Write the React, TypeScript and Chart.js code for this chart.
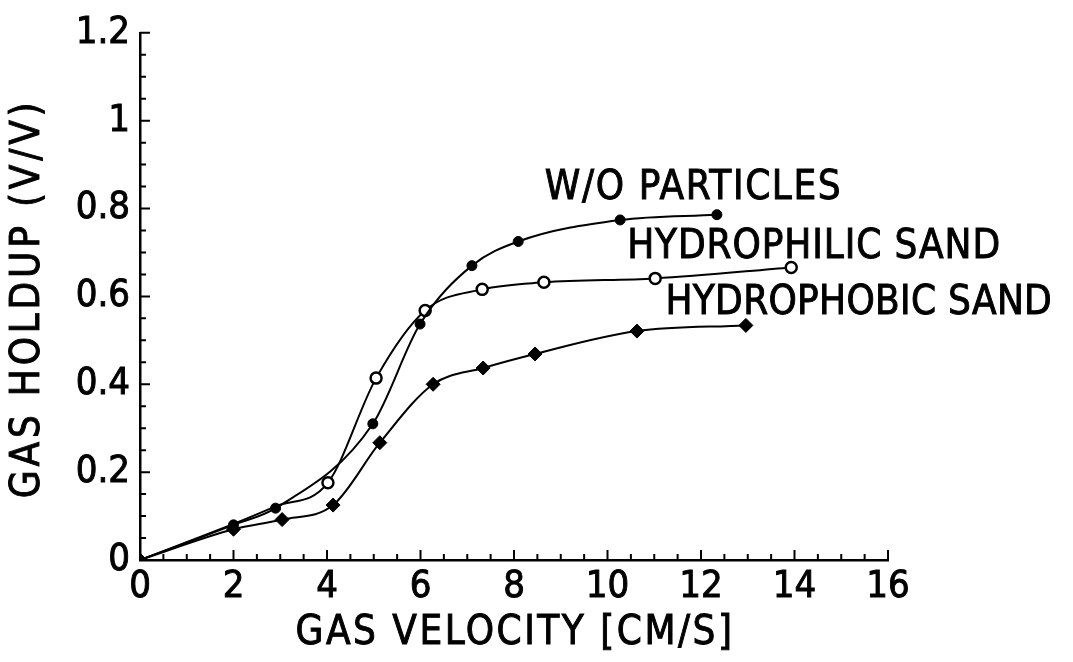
import React, { useEffect, useRef } from "react";
import { Chart, registerables } from "chart.js";

Chart.register(...registerables);

// Gas velocity [cm/s] and gas holdup (V/V)
const woX = [0, 2.0, 2.9, 4.98, 5.99, 7.1, 8.09, 10.27, 12.34];
const woY = [0, 0.08, 0.118, 0.31, 0.537, 0.67, 0.725, 0.774, 0.786];
const philX = [0, 2.0, 2.9, 4.02, 5.05, 6.1, 7.32, 8.64, 11.02, 13.93];
const philY = [0, 0.082, 0.122, 0.176, 0.414, 0.568, 0.616, 0.632, 0.641, 0.666];
const philShown = [false, false, false, true, true, true, true, true, true, true];
const phobX = [0, 2.0, 3.04, 4.13, 5.13, 6.27, 7.34, 8.45, 10.63, 12.96];
const phobY = [0, 0.07, 0.092, 0.125, 0.267, 0.4, 0.437, 0.469, 0.521, 0.534];

const xTickValues = [0, 2, 4, 6, 8, 10, 12, 14, 16];
const yTickValues = [0, 0.2, 0.4, 0.6, 0.8, 1, 1.2];

const seriesLabels = ["W/O PARTICLES", "HYDROPHILIC SAND", "HYDROPHOBIC SAND"];
// label anchor (data coords): left edge of text, baseline
const labelX = [8.66, 10.42, 11.24];
const labelY = [0.822, 0.688, 0.559];
const labelSpacing = [1.6, 0.9, 0.3];

const xTitle = "GAS VELOCITY [CM/S]";
const yTitle = "GAS HOLDUP (V/V)";

const FAMILY = "'DejaVu Sans Condensed', 'DejaVu Sans', sans-serif";

const pts = (xs: number[], ys: number[]) => xs.map((x, i) => ({ x, y: ys[i] }));

const tickPlugin = {
  id: "inwardTicks",
  afterDatasetsDraw(chart: any) {
    const { ctx, chartArea, scales } = chart;
    const x = scales.x;
    const y = scales.y;
    ctx.save();
    ctx.strokeStyle = "#000";
    ctx.lineWidth = 2;
    ctx.beginPath();
    for (let i = 0; i <= 32; i++) {
      const v = i * 0.5;
      const px = x.getPixelForValue(v);
      const len = i % 4 === 0 ? 10 : 6;
      ctx.moveTo(px, chartArea.bottom);
      ctx.lineTo(px, chartArea.bottom - len);
    }
    for (let i = 0; i <= 24; i++) {
      const v = i * 0.05;
      const py = y.getPixelForValue(v);
      const len = i % 4 === 0 ? 10 : 6;
      ctx.moveTo(chartArea.left, py);
      ctx.lineTo(chartArea.left + len, py);
    }
    ctx.stroke();
    ctx.restore();
  },
};

const drawText = (ctx: any, t: string, x: number, y: number, spacing: number) => {
  ctx.letterSpacing = `${spacing}px`;
  ctx.fillText(t, x, y);
  ctx.strokeText(t, x, y);
  ctx.letterSpacing = "0px";
};

const labelPlugin = {
  id: "textLabels",
  afterDraw(chart: any) {
    const { ctx, scales, chartArea } = chart;
    ctx.save();
    ctx.fillStyle = "#000";
    ctx.strokeStyle = "#000";
    ctx.lineWidth = 0.9;
    ctx.font = `40px ${FAMILY}`;
    ctx.textAlign = "left";
    ctx.textBaseline = "alphabetic";
    seriesLabels.forEach((t, i) => {
      drawText(ctx, t, scales.x.getPixelForValue(labelX[i]), scales.y.getPixelForValue(labelY[i]), labelSpacing[i]);
    });
    // x title
    ctx.textAlign = "center";
    ctx.textBaseline = "middle";
    drawText(ctx, xTitle, (chartArea.left + chartArea.right) / 2 + 1, 634, 2.5);
    // y title
    ctx.translate(29, (chartArea.top + chartArea.bottom) / 2 + 2);
    ctx.rotate(-Math.PI / 2);
    drawText(ctx, yTitle, 0, 0, 3.8);
    ctx.restore();
  },
};

export default function App() {
  const ref = useRef<HTMLCanvasElement | null>(null);
  useEffect(() => {
    if (!ref.current) return;
    const chart = new Chart(ref.current, {
      type: "scatter",
      data: {
        datasets: [
          {
            label: seriesLabels[0],
            data: pts(woX, woY),
            showLine: true,
            borderColor: "#000",
            borderWidth: 2,
            cubicInterpolationMode: "monotone",
            pointStyle: "circle",
            pointRadius: 5,
            pointBackgroundColor: "#000",
            pointBorderColor: "#000",
            pointBorderWidth: 1,
            order: 1,
          },
          {
            label: seriesLabels[1],
            data: pts(philX, philY),
            showLine: true,
            borderColor: "#000",
            borderWidth: 2,
            cubicInterpolationMode: "monotone",
            pointStyle: "circle",
            pointRadius: philShown.map((s) => (s ? 5.5 : 0)),
            pointBackgroundColor: "#fff",
            pointBorderColor: "#000",
            pointBorderWidth: 2.5,
            order: 3,
          },
          {
            label: seriesLabels[2],
            data: pts(phobX, phobY),
            showLine: true,
            borderColor: "#000",
            borderWidth: 2,
            cubicInterpolationMode: "monotone",
            pointStyle: "rectRot",
            pointRadius: 7,
            pointBackgroundColor: "#000",
            pointBorderColor: "#000",
            pointBorderWidth: 1,
            order: 2,
          },
        ],
      },
      options: {
        responsive: false,
        animation: false,
        devicePixelRatio: 1,
        layout: { padding: { top: 30, right: 185, left: 0, bottom: 0 } },
        plugins: { legend: { display: false }, tooltip: { enabled: false } },
        scales: {
          x: {
            type: "linear",
            min: 0,
            max: 16,
            afterFit: (s: any) => {
              s.height = 102;
            },
            afterBuildTicks: (s: any) => {
              s.ticks = xTickValues.map((v) => ({ value: v }));
            },
            grid: { display: false, drawTicks: false },
            border: { display: true, color: "#000", width: 2.5 },
            ticks: {
              color: "#000",
              font: { family: FAMILY, size: 38 },
              textStrokeColor: "#000",
              textStrokeWidth: 0.9,
              padding: 4,
              maxRotation: 0,
              autoSkip: false,
              callback: (v: any) => String(v),
            },
            title: { display: false },
          },
          y: {
            type: "linear",
            min: 0,
            max: 1.2,
            afterFit: (s: any) => {
              s.width = 140;
            },
            afterBuildTicks: (s: any) => {
              s.ticks = yTickValues.map((v) => ({ value: v }));
            },
            grid: { display: false, drawTicks: false },
            border: { display: true, color: "#000", width: 2.5 },
            ticks: {
              color: "#000",
              font: { family: FAMILY, size: 38 },
              textStrokeColor: "#000",
              textStrokeWidth: 0.9,
              padding: 10,
              autoSkip: false,
              callback: (v: any) => String(+Number(v).toFixed(2)),
            },
            title: { display: false },
          },
        },
      },
      plugins: [tickPlugin, labelPlugin],
    } as any);
    return () => chart.destroy();
  }, []);
  return (
    <div style={{ position: "absolute", left: 0, top: 0, width: 1073, height: 662, background: "#fff" }}>
      <canvas ref={ref} width={1073} height={662} style={{ display: "block" }} />
    </div>
  );
}
